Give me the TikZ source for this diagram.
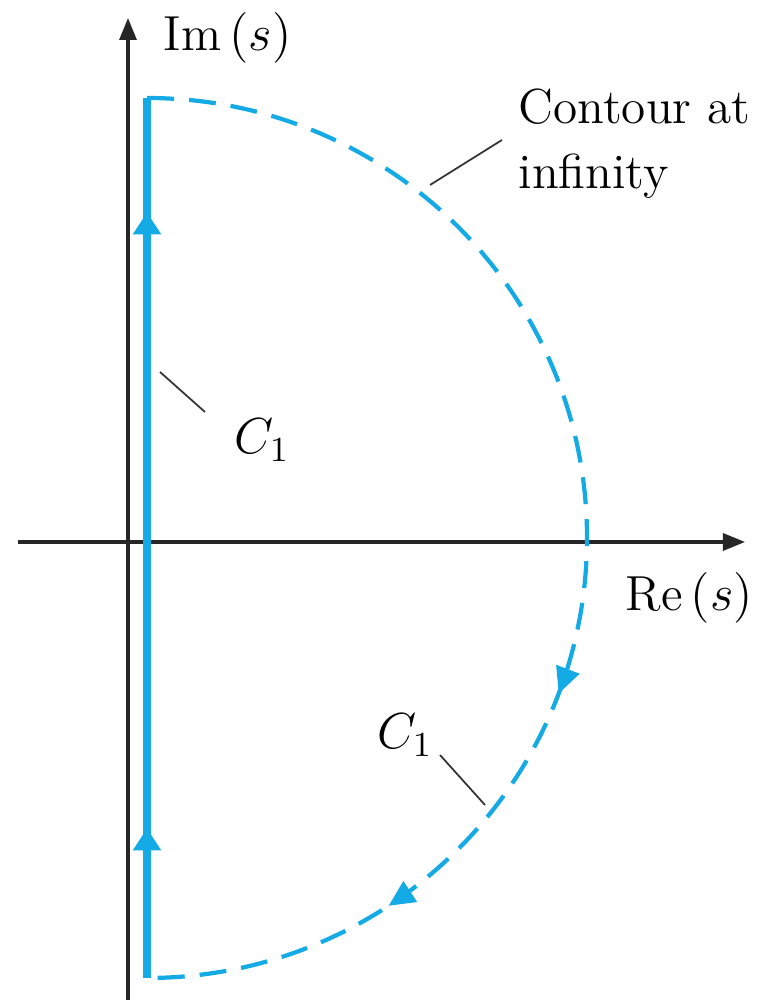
\documentclass[tikz,border=0pt]{standalone}
\usepackage{tikz}
\usetikzlibrary{arrows.meta,decorations.markings}

\definecolor{contourblue}{RGB}{20,170,230}

\begin{document}
\begin{tikzpicture}[
    x=0.01cm, y=0.01cm,
    axis/.style={-{Triangle[length=0.22cm,width=0.17cm]}, line width=0.9pt, black!85},
    path1/.style={line width=2.3pt, contourblue},
    farpath/.style={line width=1.2pt, contourblue, dash pattern=on 0.27cm off 0.15cm},
    leader/.style={line width=0.5pt, black!80},
    lbl/.style={font=\fontsize{14}{18.5}\selectfont, inner sep=0pt}
]
\useasboundingbox (0,0) rectangle (757,1000);

% axes
\coordinate (xl) at (18,458);
\coordinate (xr) at (745,458);
\coordinate (yb) at (128,0);
\coordinate (yt) at (128,982);
\draw[axis] (xl) -- (xr);
\draw[axis] (yb) -- (yt);
\node[lbl, anchor=west] (im) at (163,962) {Im\,$(s)$};
\node[lbl, anchor=west] (re) at (625,402) {Re\,$(s)$};

% contour along the imaginary axis
\coordinate (bot) at (147,22);
\coordinate (top) at (147,902);
\coordinate (mid) at (147,462);
\draw[path1, postaction={decorate}, decoration={markings,
    mark=at position 0.17 with {\arrow{Triangle[length=0.22cm,width=0.27cm]}},
    mark=at position 0.87 with {\arrow{Triangle[length=0.22cm,width=0.27cm]}}}]
    (bot) -- (top);

% contour at infinity
\draw[farpath, postaction={decorate}, decoration={markings,
    mark=at position 0.615 with {\arrow{Triangle[length=0.26cm,width=0.24cm]}},
    mark=at position 0.815 with {\arrow{Triangle[length=0.26cm,width=0.24cm]}}}]
    (top) arc[start angle=90, end angle=-90, radius=440];

% labels
\node[lbl, anchor=north west, align=left] (inf) at (518,912) {Contour at\\infinity};
\coordinate (infa) at (430,815);
\draw[leader] (infa) -- (502,860);

\node[lbl] (c1a) at (262,560) {$C_1$};
\coordinate (c1ap) at (160,628);
\draw[leader] (c1ap) -- (205,588);

\node[lbl] (c1b) at (405,265) {$C_1$};
\coordinate (c1bp) at (485,195);
\draw[leader] (c1bp) -- (440,245);

\end{tikzpicture}
\end{document}
